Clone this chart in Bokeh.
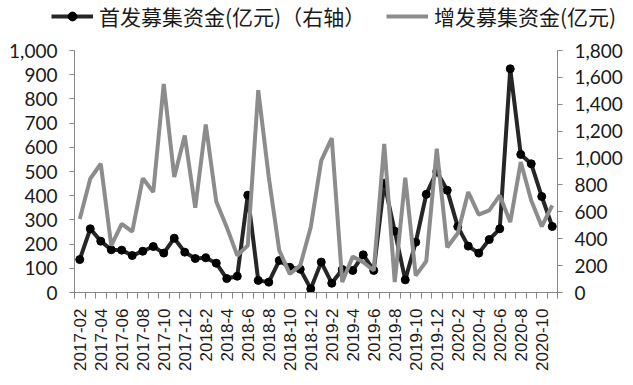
from bokeh.plotting import figure
from bokeh.models import (Range1d, LinearAxis, FixedTicker, NumeralTickFormatter,
                          Legend, LegendItem)
from bokeh.embed import file_html
from bokeh.resources import INLINE
import math

# ---- data ----
months = [
    "2017-02", "2017-03", "2017-04", "2017-05", "2017-06", "2017-07", "2017-08",
    "2017-09", "2017-10", "2017-11", "2017-12",
    "2018-1", "2018-2", "2018-3", "2018-4", "2018-5", "2018-6", "2018-7",
    "2018-8", "2018-9", "2018-10", "2018-11", "2018-12",
    "2019-1", "2019-2", "2019-3", "2019-4", "2019-5", "2019-6", "2019-7",
    "2019-8", "2019-9", "2019-10", "2019-11", "2019-12",
    "2020-1", "2020-2", "2020-3", "2020-4", "2020-5", "2020-6", "2020-7",
    "2020-8", "2020-9", "2020-10", "2020-11",
]
# 首发募集资金 (right axis)
ipo = [245, 474, 382, 318, 315, 275, 307, 342, 293, 404, 300,
       253, 258, 218, 104, 121, 724, 90, 77, 238, 188, 173, 27,
       226, 69, 171, 164, 280, 164, 813, 456, 94, 374, 730, 900,
       760, 490, 345, 293, 394, 474, 1664, 1027, 957, 714, 491]
# 增发募集资金 (left axis)
seo = [304, 470, 532, 194, 284, 252, 472, 415, 862, 477, 649,
       350, 694, 376, 270, 153, 194, 836, 477, 174, 77, 112, 270,
       545, 638, 43, 149, 125, 91, 614, 43, 474, 70, 129, 594,
       187, 245, 415, 322, 339, 401, 291, 539, 380, 273, 360]
left_ticks = list(range(0, 1001, 100))
right_ticks = list(range(0, 1801, 200))
label_ipo = "首发募集资金(亿元)（右轴）"
label_seo = "增发募集资金(亿元)"

n = len(months)
xs = [i + 0.5 for i in range(n)]

AX = "#868686"
NUM_FONT = "Lato"
BLACK = "#262626"
GRAY = "#8c8c8c"

# ---------------- main chart ----------------
p = figure(width=625, height=345, output_backend="svg", toolbar_location=None,
           x_range=Range1d(0, n), y_range=Range1d(0, 1000),
           min_border_left=74, min_border_right=67, min_border_top=18,
           min_border_bottom=85)
p.extra_y_ranges = {"r": Range1d(0, 1800)}
p.xgrid.visible = False
p.ygrid.visible = False
p.outline_line_color = None

# left axis
ya = p.yaxis[0]
ya.ticker = FixedTicker(ticks=left_ticks)
ya.formatter = NumeralTickFormatter(format="0,0")
ya.axis_line_color = AX
ya.major_tick_line_color = AX
ya.major_tick_in = 0
ya.major_tick_out = 5
ya.minor_tick_line_color = None
ya.major_label_text_font = NUM_FONT
ya.major_label_text_font_size = "19px"
ya.major_label_text_color = "#1a1a1a"
ya.major_label_standoff = 12

# right axis
ra = LinearAxis(y_range_name="r", ticker=FixedTicker(ticks=right_ticks),
                formatter=NumeralTickFormatter(format="0,0"))
ra.axis_line_color = AX
ra.major_tick_line_color = AX
ra.major_tick_in = 0
ra.major_tick_out = 5
ra.minor_tick_line_color = None
ra.major_label_text_font = NUM_FONT
ra.major_label_text_font_size = "19px"
ra.major_label_text_color = "#1a1a1a"
ra.major_label_standoff = 12
p.add_layout(ra, "right")

# x axis
xa = p.xaxis[0]
xa.ticker = FixedTicker(ticks=xs[::2], minor_ticks=list(range(0, n + 1)))
xa.major_label_overrides = {xs[i]: months[i] for i in range(0, n, 2)}
xa.axis_line_color = AX
xa.major_tick_line_color = None
xa.major_tick_in = 0
xa.major_tick_out = 0
xa.minor_tick_line_color = AX
xa.minor_tick_in = 0
xa.minor_tick_out = 6
xa.major_label_orientation = math.pi / 2
xa.major_label_text_font = "Liberation Sans"
xa.major_label_text_font_size = "17px"
xa.major_label_text_color = "#1a1a1a"
xa.major_label_standoff = 10

# series
p.line(xs, ipo, y_range_name="r", line_color=BLACK, line_width=4)
p.scatter(xs, ipo, y_range_name="r", size=8, fill_color="#000000",
          line_color="#000000")
p.line(xs, seo, line_color=GRAY, line_width=4)

# ---------------- legend strip (separate root above the chart) ----------------
lg = figure(width=625, height=32, output_backend="svg", toolbar_location=None,
            x_range=Range1d(-100, -99), y_range=Range1d(-100, -99),
            min_border_left=0, min_border_right=0, min_border_top=0,
            min_border_bottom=0, x_axis_type=None, y_axis_type=None)
lg.xgrid.visible = False
lg.ygrid.visible = False
lg.outline_line_color = None
# same series, drawn outside the strip's visible range: only their legend keys show
k1 = lg.line(xs, ipo, line_color=BLACK, line_width=4)
k1m = lg.scatter(xs, ipo, size=8, fill_color="#000000", line_color="#000000")
k2 = lg.line(xs, seo, line_color=GRAY, line_width=4)


def make_legend(items, x):
    L = Legend(items=items, orientation="horizontal", location=(x, 1))
    L.padding = 0
    L.margin = 0
    L.glyph_width = 42
    L.glyph_height = 22
    L.label_height = 22
    L.label_standoff = 6
    L.border_line_color = None
    L.background_fill_alpha = 0
    L.label_text_font = "Noto Sans CJK SC"
    L.label_text_font_size = "21px"
    L.label_text_color = "#1a1a1a"
    return L


lg.add_layout(make_legend([LegendItem(label=label_ipo, renderers=[k1, k1m])], 51), "center")
lg.add_layout(make_legend([LegendItem(label=label_seo, renderers=[k2])], 386), "center")

open("out.html", "w").write(file_html([lg, p], INLINE))
